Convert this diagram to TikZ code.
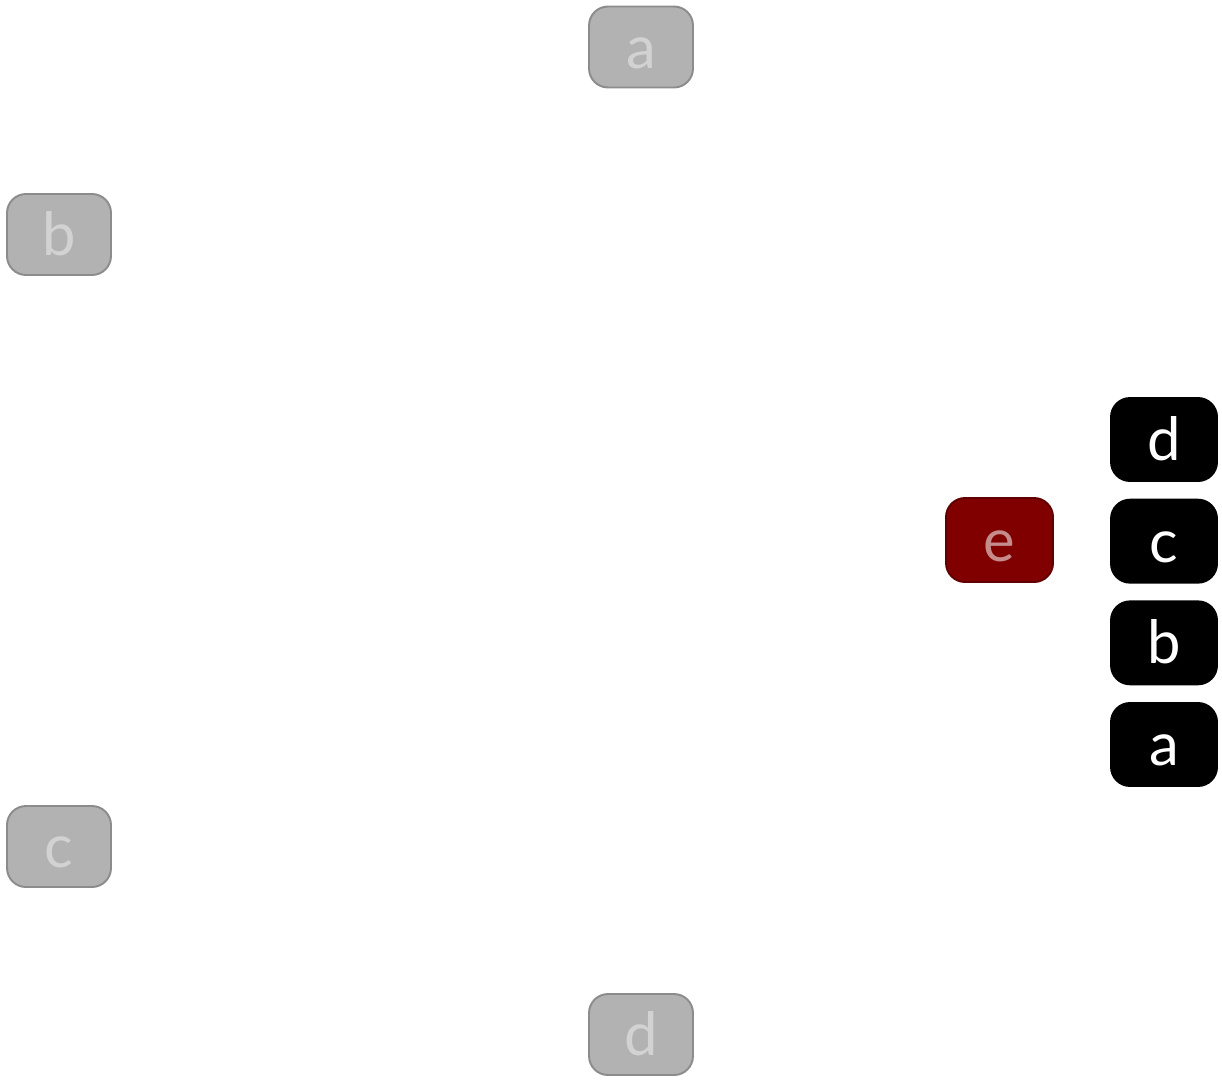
\documentclass[tikz,border=0pt]{standalone}
\usepackage{fontspec}
\setmainfont{Lato}
\usetikzlibrary{positioning}
\definecolor{maroonbox}{RGB}{128,0,0}
\definecolor{maroonline}{RGB}{96,0,0}
\begin{document}
\begin{tikzpicture}[x=0.02cm, y=-0.02cm,
    font=\fontsize{34}{40}\selectfont,
    card/.style={rounded corners=0.38cm, line width=1.1pt, text height=24pt, text depth=0pt, inner sep=0pt},
    ghost/.style={card, fill=gray!60, draw=gray!90, text=gray!35, minimum width=2.08cm, minimum height=1.62cm},
    stack/.style={card, fill=black, draw=black, text=white, minimum width=2.12cm, minimum height=1.66cm},
    pick/.style={card, fill=maroonbox, draw=maroonline, text=white!55!maroonbox, minimum width=2.14cm, minimum height=1.68cm},
    node distance=0.335cm]
        % Marco
        \useasboundingbox (0,0) rectangle (1222,1079);

        % Nodos grises en el anillo
        \node[ghost] (ga) at (641,47) {a};
        \node[ghost] (gb) at (59,234.5) {b};
        \node[ghost] (gc) at (59,846.5) {c};
        \node[ghost] (gd) at (641,1034.5) {d};

        % Nodo elegido
        \node[pick] (e) at (999.5,540) {e};

        % Pila
        \node[stack] (sd) at (1164,439.5) {d};
        \node[stack, below=of sd] (sc) {c};
        \node[stack, below=of sc] (sb) {b};
        \node[stack, below=of sb] (sa) {a};

    \end{tikzpicture}
\end{document}
